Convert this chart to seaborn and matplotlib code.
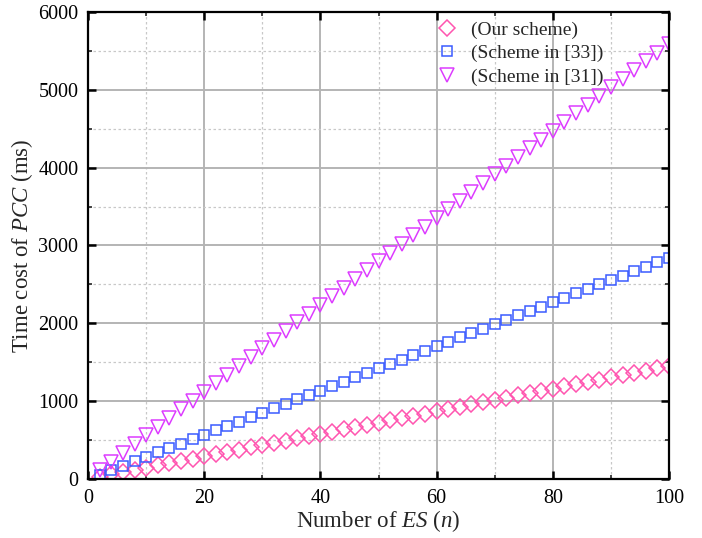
import matplotlib
matplotlib.use('Agg')
import matplotlib.pyplot as plt
from matplotlib.ticker import MultipleLocator
import seaborn as sns

# Values
n_es = [2, 4, 6, 8, 10, 12, 14, 16, 18, 20, 22, 24, 26, 28, 30, 32, 34, 36, 38, 40,
        42, 44, 46, 48, 50, 52, 54, 56, 58, 60, 62, 64, 66, 68, 70, 72, 74, 76, 78, 80,
        82, 84, 86, 88, 90, 92, 94, 96, 98, 100]

our_scheme = [29, 58, 87, 116, 145, 174, 203, 232, 261, 290, 319, 348, 377, 406, 435,
              464, 493, 522, 551, 580, 609, 638, 667, 696, 725, 754, 783, 812, 841, 870,
              899, 928, 957, 986, 1015, 1044, 1073, 1102, 1131, 1160, 1189, 1218, 1247,
              1276, 1305, 1334, 1363, 1392, 1421, 1450]

scheme_33 = [57, 114, 170, 227, 284, 341, 398, 454, 511, 568, 625, 682, 738, 795, 852,
             909, 966, 1022, 1079, 1136, 1193, 1250, 1306, 1363, 1420, 1477, 1534, 1590,
             1647, 1704, 1761, 1818, 1874, 1931, 1988, 2045, 2102, 2158, 2215, 2272, 2329,
             2386, 2442, 2499, 2556, 2613, 2670, 2726, 2783, 2840]

scheme_31 = [112, 224, 335, 447, 559, 671, 783, 894, 1006, 1118, 1230, 1342, 1453, 1565,
             1677, 1789, 1901, 2012, 2124, 2236, 2348, 2460, 2571, 2683, 2795, 2907, 3019,
             3130, 3242, 3354, 3466, 3578, 3689, 3801, 3913, 4025, 4137, 4248, 4360, 4472,
             4584, 4696, 4807, 4919, 5031, 5143, 5255, 5366, 5478, 5590]

labels = ['(Our scheme)', '(Scheme in [33])', '(Scheme in [31])']

sns.set_style('ticks')
plt.rcParams['font.family'] = ['Liberation Serif', 'DejaVu Serif']
plt.rcParams['mathtext.fontset'] = 'custom'
plt.rcParams['mathtext.rm'] = 'Liberation Serif'
plt.rcParams['mathtext.it'] = 'Liberation Serif:italic'

fig = plt.figure(figsize=(7.02, 5.38), dpi=100)
ax = fig.add_axes([0.1254, 0.1097, 0.8276, 0.868])

series = [(our_scheme, 'D', '#ff55b0', 8),
          (scheme_33, 's', '#3a5bff', 7),
          (scheme_31, 'v', '#dd3cff', 10)]

for (vals, mk, col, ms), lab in zip(series, labels):
    sns.lineplot(x=n_es, y=vals, ax=ax, marker=mk, linestyle='', markersize=ms,
                 markerfacecolor='none', markeredgecolor=col, markeredgewidth=1.1,
                 color=col, label=lab)

ax.set_xlim(0, 100)
ax.set_ylim(0, 6000)
ax.xaxis.set_major_locator(MultipleLocator(20))
ax.xaxis.set_minor_locator(MultipleLocator(10))
ax.yaxis.set_major_locator(MultipleLocator(1000))
ax.yaxis.set_minor_locator(MultipleLocator(500))

ax.grid(which='major', color='#b4b4b4', linewidth=1.4, linestyle='-')
ax.grid(which='minor', color='#c8c8c8', linewidth=0.9, linestyle=(0, (2, 2)))
ax.set_axisbelow(True)

ax.tick_params(which='major', direction='in', length=6, width=1.8, top=True, right=True,
               labelsize=14.5, colors='black', pad=7)
ax.tick_params(which='minor', direction='in', length=3, width=1.2, top=True, right=True)
for sp in ax.spines.values():
    sp.set_linewidth(1.6)
    sp.set_color('black')

ax.set_xlabel('Number of $ES$ ($n$)', fontsize=16.5, labelpad=0)
ax.set_ylabel('Time cost of $PCC$ (ms)', fontsize=16.5, labelpad=2)

ax.legend(loc='upper left', bbox_to_anchor=(0.575, 1.01), frameon=False, fontsize=14,
          handletextpad=0.6, labelspacing=0.3, borderaxespad=0.3, handlelength=1.2)

fig.savefig('out.png', dpi=100)
